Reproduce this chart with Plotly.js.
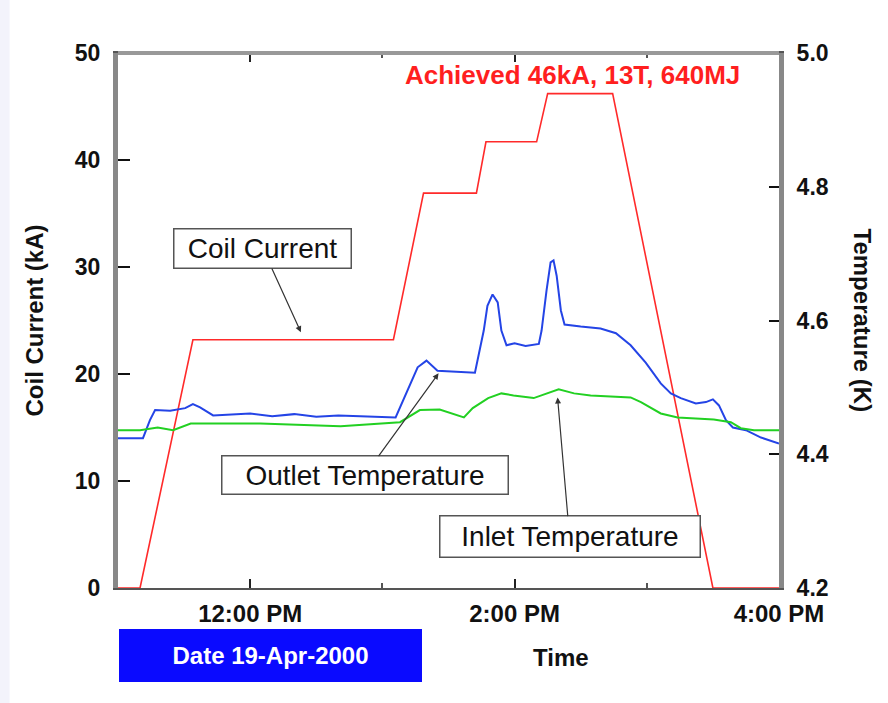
<!DOCTYPE html>
<html>
<head>
<meta charset="utf-8">
<script src="https://cdn.plot.ly/plotly-3.0.1.min.js"></script>
<style>html,body{margin:0;padding:0;background:#fff;}</style>
</head>
<body>
<div id="chart" style="width:888px;height:703px;"></div>
<script>
// ---- data ----
const DAY = '2000-04-19 ';
const coilTimes = ['11:00','11:10','11:34','13:05','13:18:40','13:42:40','13:47','14:10','14:15','14:44:30','15:30','16:00'];
const coilCurrent = [0, 0, 23.2, 23.2, 36.9, 36.9, 41.7, 41.7, 46.2, 46.2, 0, 0];

const outletTimes = ['11:00','11:11:20','11:14:30','11:16:50','11:23:40','11:30:30','11:34','11:37:15','11:43:10',
  '11:50','12:00','12:10','12:20','12:30','12:40','12:50','13:00','13:06','13:16','13:20','13:25','13:42',
  '13:46','13:47:40','13:50','13:52:20','13:54','13:56:20','14:00','14:05','14:11','14:12:15','14:14:30','14:16:20',
  '14:17:40','14:19:05','14:21','14:22:40','14:30','14:39','14:46','14:52:40','14:59:30','15:06:20','15:10:55',
  '15:15:25','15:22:15','15:26:50','15:30','15:32:45','15:35:55','15:39:05','15:45','15:51:50','16:00'];
const outletTemp = [4.424, 4.424, 4.451, 4.466, 4.465, 4.469, 4.475, 4.470, 4.458,
  4.459, 4.461, 4.457, 4.460, 4.456, 4.458, 4.457, 4.456, 4.455, 4.530, 4.540, 4.525, 4.522,
  4.585, 4.622, 4.639, 4.627, 4.585, 4.563, 4.566, 4.562, 4.565, 4.585, 4.645, 4.687,
  4.690, 4.667, 4.615, 4.594, 4.591, 4.588, 4.581, 4.563, 4.537, 4.506, 4.491,
  4.484, 4.476, 4.478, 4.482, 4.473, 4.451, 4.440, 4.436, 4.425, 4.416];

const inletTimes = ['11:00','11:10','11:18','11:25','11:33','12:04:30','12:41','13:08','13:17','13:26','13:37','13:41',
  '13:48','13:54','13:59:30','14:08:40','14:20','14:27','14:34:30','14:52:40','14:57:20','15:06:20','15:14',
  '15:30:25','15:38:10','15:42:40','15:48:40','16:00'];
const inletTemp = [4.436, 4.436, 4.440, 4.436, 4.446, 4.446, 4.442, 4.448, 4.466, 4.467, 4.455, 4.469,
  4.484, 4.491, 4.488, 4.484, 4.497, 4.491, 4.488, 4.485, 4.478, 4.461, 4.455,
  4.452, 4.448, 4.439, 4.436, 4.436];

const xTickTimes = ['12:00','14:00','16:00'];
const xTickLabels = ['12:00 PM','2:00 PM','4:00 PM'];
const xMinorTimes = ['11:00','12:00','13:00','14:00','15:00','16:00'];
// ---------------------------------------

const t = s => DAY + s;
const FONT = 'Liberation Sans, Arial, Helvetica, sans-serif';

const traces = [
  {x: coilTimes.map(t), y: coilCurrent, type: 'scatter', mode: 'lines', name: 'Coil Current',
   line: {color: '#ff2a2a', width: 1.6}, yaxis: 'y'},
  {x: outletTimes.map(t), y: outletTemp, type: 'scatter', mode: 'lines', name: 'Outlet Temperature',
   line: {color: '#2444e6', width: 2}, yaxis: 'y2'},
  {x: inletTimes.map(t), y: inletTemp, type: 'scatter', mode: 'lines', name: 'Inlet Temperature',
   line: {color: '#22d022', width: 2}, yaxis: 'y2'}
];

const boldTick = {family: FONT, size: 23, weight: 'bold', color: '#111'};

const layout = {
  width: 888, height: 703,
  margin: {l: 118, r: 109, t: 53, b: 115},
  paper_bgcolor: '#ffffff', plot_bgcolor: '#ffffff',
  showlegend: false,
  xaxis: {
    type: 'date', range: [t('11:00'), t('16:00')],
    tickmode: 'array', tickvals: xTickTimes.map(t), ticktext: xTickLabels,
    ticks: 'inside', ticklen: 9, tickwidth: 2, tickcolor: '#222',
    minor: {tickmode: 'array', tickvals: xMinorTimes.map(t), ticks: 'inside', ticklen: 5, tickwidth: 2, tickcolor: '#555'},
    showline: true, linewidth: 2, linecolor: '#555', mirror: 'ticks',
    showgrid: false, zeroline: false,
    tickfont: {family: FONT, size: 24, weight: 'bold', color: '#111'},
    ticklabelstandoff: 3
  },
  yaxis: {
    range: [0, 50], dtick: 10, tick0: 0,
    ticks: 'inside', ticklen: 12, tickwidth: 2, tickcolor: '#111',
    showline: true, linewidth: 5, linecolor: '#888',
    showgrid: false, zeroline: false,
    tickfont: boldTick, ticklabelstandoff: 8,
    title: {text: 'Coil Current (kA)', font: {family: FONT, size: 24, weight: 'bold', color: '#111'}, standoff: 26}
  },
  yaxis2: {
    overlaying: 'y', side: 'right',
    range: [4.2, 5.0], dtick: 0.2, tick0: 4.2, tickformat: '.1f',
    ticks: 'inside', ticklen: 10, tickwidth: 2, tickcolor: '#111',
    showline: true, linewidth: 5, linecolor: '#888',
    showgrid: false, zeroline: false,
    tickfont: boldTick, ticklabelstandoff: 8
  },
  shapes: [
    {type: 'line', xref: 'paper', yref: 'paper', x0: 0, x1: 1, y0: 1, y1: 1, line: {color: '#999', width: 4}},
    {type: 'rect', xref: 'paper', yref: 'paper', x0: -0.1785, x1: -0.164, y0: -0.22, y1: 1.1,
     fillcolor: '#f3f3fb', line: {width: 0}, layer: 'below'}
  ],
  annotations: [
    {xref: 'paper', yref: 'paper', x: 0.688, y: 0.959, xanchor: 'center', yanchor: 'middle', showarrow: false,
     text: 'Achieved 46kA, 13T, 640MJ', font: {family: FONT, size: 26, weight: 'bold', color: '#ff1f1f'}},
    {xref: 'x', yref: 'y', x: t('12:23'), y: 23.9, ax: -38, ay: -83.5,
     showarrow: true, arrowhead: 2, arrowsize: 1, arrowwidth: 1.2, arrowcolor: '#333',
     text: 'Coil Current', font: {family: FONT, size: 28, color: '#111'},
     bgcolor: '#fff', bordercolor: '#555', borderwidth: 1.5, borderpad: 1, width: 174, height: 36},
    {xref: 'x', yref: 'y2', x: t('13:25:30'), y: 4.521, ax: -74, ay: 102,
     showarrow: true, arrowhead: 2, arrowsize: 1, arrowwidth: 1.2, arrowcolor: '#333',
     text: 'Outlet Temperature', font: {family: FONT, size: 28, color: '#111'},
     bgcolor: '#fff', bordercolor: '#555', borderwidth: 1.5, borderpad: 1, width: 283, height: 35},
    {xref: 'x', yref: 'y2', x: t('14:19:30'), y: 4.485, ax: 12, ay: 139.5,
     showarrow: true, arrowhead: 2, arrowsize: 1, arrowwidth: 1.2, arrowcolor: '#333',
     text: 'Inlet Temperature', font: {family: FONT, size: 28, color: '#111'},
     bgcolor: '#fff', bordercolor: '#555', borderwidth: 1.5, borderpad: 1, width: 257, height: 38},
    {xref: 'paper', yref: 'paper', x: 0.2307, y: -0.126, xanchor: 'center', yanchor: 'middle', showarrow: false,
     text: 'Date 19-Apr-2000', font: {family: FONT, size: 24, weight: 'bold', color: '#ffffff'},
     bgcolor: '#0a0aff', bordercolor: '#0a0aff', borderwidth: 1, borderpad: 0, width: 301, height: 51},
    {xref: 'paper', yref: 'paper', x: 0.670, y: -0.129, xanchor: 'center', yanchor: 'middle', showarrow: false,
     text: 'Time', font: {family: FONT, size: 24, weight: 'bold', color: '#111'}},
    {xref: 'paper', yref: 'paper', x: 1.127, y: 0.5, xanchor: 'center', yanchor: 'middle', showarrow: false, textangle: 90,
     text: 'Temperature (K)', font: {family: FONT, size: 24, weight: 'bold', color: '#111'}}
  ]
};

Plotly.newPlot('chart', traces, layout, {displayModeBar: false, responsive: false});
</script>
</body>
</html>
